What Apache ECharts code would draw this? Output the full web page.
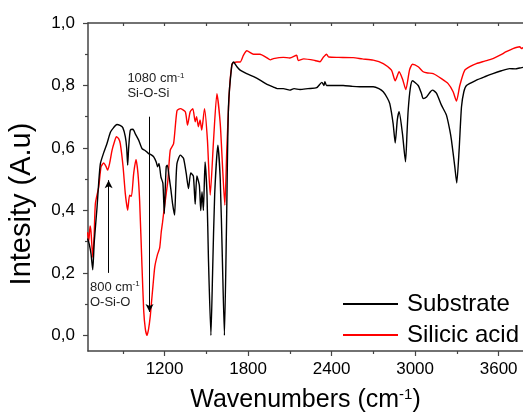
<!DOCTYPE html>
<html>
<head>
<meta charset="utf-8">
<script src="https://cdn.jsdelivr.net/npm/echarts@6/dist/echarts.min.js"></script>
<style>
html,body{margin:0;padding:0;background:#fff;}
#chart{width:523px;height:412px;}
</style>
</head>
<body>
<div id="chart"></div>
<script>
// ---- data ----
const seriesNames = ['Substrate', 'Silicic acid'];

const subWave = [647,660,672,684,695,715,727,739,763,787,811,834,858,880,900,918,928,935,942,954,973,990,1014,1038,1060,1085,1105,1121,1140,1150,1160,1174,1188,1198,1205,1212,1220,1235,1246,1258,1272,1280,1289,1313,1336,1355,1372,1388,1407,1420,1432,1450,1460,1469,1479,1491,1505,1515,1533,1545,1560,1583,1600,1615,1630,1645,1659,1683,1695,1720,1743,1790,1840,1886,1930,1982,2010,2053,2100,2130,2173,2230,2293,2330,2345,2352,2364,2420,2484,2550,2603,2699,2740,2771,2800,2818,2842,2857,2872,2885,2909,2931,2942,2950,2965,2981,3022,3045,3058,3082,3110,3125,3154,3189,3225,3250,3261,3285,3299,3316,3333,3350,3369,3440,3500,3559,3620,3679,3720,3751,3775];
const subVal = [0.31,0.29,0.26,0.21,0.30,0.41,0.49,0.55,0.585,0.615,0.65,0.665,0.675,0.672,0.665,0.636,0.60,0.545,0.60,0.657,0.66,0.645,0.625,0.598,0.592,0.582,0.578,0.572,0.555,0.54,0.55,0.507,0.487,0.39,0.47,0.54,0.545,0.50,0.465,0.42,0.385,0.47,0.55,0.577,0.567,0.52,0.47,0.52,0.51,0.42,0.51,0.48,0.40,0.46,0.40,0.555,0.45,0.25,0.0,0.2,0.45,0.609,0.50,0.25,0.0,0.35,0.73,0.865,0.875,0.86,0.849,0.838,0.828,0.817,0.805,0.795,0.79,0.79,0.785,0.79,0.787,0.79,0.793,0.81,0.80,0.812,0.80,0.80,0.80,0.797,0.796,0.796,0.79,0.78,0.76,0.742,0.678,0.616,0.69,0.716,0.646,0.556,0.65,0.72,0.79,0.815,0.80,0.775,0.758,0.763,0.78,0.785,0.775,0.737,0.705,0.655,0.625,0.54,0.488,0.593,0.731,0.78,0.80,0.817,0.828,0.838,0.847,0.854,0.853,0.856,0.858];

const acidWave = [647,655,665,672,684,694,703,727,744,763,780,791,805,823,840,854,870,882,902,918,935,949,962,978,995,1009,1021,1038,1050,1062,1074,1085,1097,1105,1117,1130,1150,1165,1176,1185,1193,1212,1224,1241,1265,1289,1313,1349,1365,1384,1403,1420,1430,1443,1455,1467,1487,1508,1528,1552,1576,1600,1619,1633,1647,1666,1686,1719,1743,1767,1791,1839,1886,1930,1960,1982,2053,2100,2149,2160,2200,2280,2317,2340,2364,2380,2450,2555,2620,2699,2771,2830,2857,2885,2910,2933,2960,2981,3022,3058,3090,3130,3189,3237,3273,3297,3321,3357,3400,3440,3500,3559,3610,3655,3703,3751,3765,3775];
const acidVal = [0.33,0.30,0.35,0.33,0.25,0.32,0.422,0.475,0.54,0.552,0.54,0.529,0.55,0.593,0.62,0.636,0.63,0.614,0.54,0.454,0.401,0.449,0.445,0.518,0.563,0.518,0.43,0.22,0.08,0.02,0.0,0.02,0.06,0.10,0.16,0.22,0.26,0.28,0.33,0.36,0.39,0.454,0.497,0.593,0.614,0.719,0.726,0.716,0.673,0.716,0.726,0.684,0.70,0.668,0.69,0.657,0.726,0.625,0.449,0.625,0.774,0.678,0.518,0.417,0.593,0.785,0.87,0.875,0.875,0.897,0.911,0.90,0.90,0.89,0.882,0.886,0.89,0.888,0.897,0.88,0.885,0.88,0.876,0.89,0.90,0.891,0.89,0.889,0.885,0.881,0.87,0.849,0.815,0.844,0.82,0.787,0.85,0.868,0.86,0.844,0.84,0.838,0.822,0.806,0.78,0.75,0.80,0.849,0.862,0.87,0.878,0.886,0.897,0.908,0.918,0.924,0.918,0.922];

const xMajorTicks = [1200, 1800, 2400, 3000, 3600];
const xMinorTicks = [900, 1500, 2100, 2700, 3300];
const xTopTicks = [900, 1200, 1500, 1800, 2100, 2400, 2700, 3000, 3300, 3600];
const yMajorTicks = [0, 0.2, 0.4, 0.6, 0.8, 1.0];
const yMinorTicks = [0.1, 0.3, 0.5, 0.7, 0.9];
const xRange = [650, 3775];
const yRange = [-0.05, 1.0];

// annotations: [wavenumber, from value, to value]
const annot1080 = {wave: 1092, from: 0.70, to: 0.075, labelWave: 933, labelVal: 0.845};
const annot800 = {wave: 798, from: 0.20, to: 0.497, labelWave: 664, labelVal: 0.178};

// ---- chart ----
const toPairs = (xs, ys) => xs.map((x, i) => [x, ys[i]]);
const FONT = 'Liberation Sans, Arial, sans-serif';
const AXIS_COLOR = '#444';
const fmt = v => v.toFixed(1).replace('.', ',');

const chart = echarts.init(document.getElementById('chart'), null, {renderer: 'canvas'});

const richSup = {
  t: {fontSize: 13, fontFamily: FONT, color: '#222', lineHeight: 15},
  s: {fontSize: 8, fontFamily: FONT, color: '#222', lineHeight: 15, verticalAlign: 'top', padding: [0, 0, 6, 0]}
};

const option = {
  animation: false,
  backgroundColor: '#fff',
  textStyle: {fontFamily: FONT},
  grid: {left: 88, right: 0, top: 23, bottom: 61, containLabel: false, outerBoundsMode: 'none'},
  legend: {
    data: seriesNames,
    orient: 'vertical',
    left: 338,
    top: 287,
    icon: 'rect',
    itemWidth: 55,
    itemHeight: 2,
    itemGap: 7,
    textStyle: {fontSize: 24, color: '#000', fontFamily: FONT, padding: [0, 0, 0, 4]},
    selectedMode: false
  },
  xAxis: [
    {
      type: 'value', position: 'bottom', min: xRange[0], max: xRange[1],
      name: 'Wavenumbers (cm{sup|-1})',
      nameLocation: 'middle', nameGap: 36,
      nameTextStyle: {fontSize: 25, color: '#000', fontFamily: FONT,
        rich: {sup: {fontSize: 15, color: '#000', fontFamily: FONT, verticalAlign: 'top', padding: [0, 0, 12, 0]}}},
      axisLine: {show: true, onZero: false, lineStyle: {color: AXIS_COLOR, width: 1.5}},
      axisTick: {show: true, inside: false, length: 5, customValues: xMajorTicks, lineStyle: {color: AXIS_COLOR, width: 1.2}},
      axisLabel: {show: true, customValues: xMajorTicks, fontSize: 17, color: '#000', margin: 10, fontFamily: FONT, formatter: v => String(v)},
      splitLine: {show: false}
    },
    {
      type: 'value', position: 'bottom', min: xRange[0], max: xRange[1],
      axisLine: {show: false, onZero: false},
      axisTick: {show: true, inside: false, length: 3, customValues: xMinorTicks, lineStyle: {color: AXIS_COLOR, width: 1.2}},
      axisLabel: {show: false},
      splitLine: {show: false}
    },
    {
      type: 'value', position: 'top', min: xRange[0], max: xRange[1],
      axisLine: {show: true, onZero: false, lineStyle: {color: AXIS_COLOR, width: 1.5}},
      axisTick: {show: true, inside: true, length: 3, customValues: xTopTicks, lineStyle: {color: AXIS_COLOR, width: 1.2}},
      axisLabel: {show: false},
      splitLine: {show: false}
    }
  ],
  yAxis: [
    {
      type: 'value', position: 'left', min: yRange[0], max: yRange[1],
      name: 'Intesity (A.u)',
      nameLocation: 'middle', nameGap: 52,
      nameTextStyle: {fontSize: 29, color: '#000', fontFamily: FONT, padding: [0, 34, 0, 0]},
      axisLine: {show: true, onZero: false, lineStyle: {color: AXIS_COLOR, width: 1.5}},
      axisTick: {show: true, inside: false, length: 5, customValues: yMajorTicks, lineStyle: {color: AXIS_COLOR, width: 1.2}},
      axisLabel: {show: true, customValues: yMajorTicks, fontSize: 17, color: '#000', margin: 13, fontFamily: FONT, formatter: fmt},
      splitLine: {show: false}
    },
    {
      type: 'value', position: 'left', min: yRange[0], max: yRange[1],
      axisLine: {show: false, onZero: false},
      axisTick: {show: true, inside: false, length: 3, customValues: yMinorTicks, lineStyle: {color: AXIS_COLOR, width: 1.2}},
      axisLabel: {show: false},
      splitLine: {show: false}
    }
  ],
  series: [
    {
      name: seriesNames[0], type: 'line', xAxisIndex: 0, yAxisIndex: 0,
      data: toPairs(subWave, subVal),
      symbol: 'none', smooth: 0.2, z: 3,
      lineStyle: {color: '#000', width: 1.4},
      itemStyle: {color: '#000'},
      markLine: {
        silent: true, animation: false,
        symbol: ['none', 'arrow'], symbolSize: [6, 8],
        label: {show: false},
        lineStyle: {color: '#000', width: 1, type: 'solid'},
        data: [
          [{coord: [annot1080.wave, annot1080.from]}, {coord: [annot1080.wave, annot1080.to]}],
          [{coord: [annot800.wave, annot800.from]}, {coord: [annot800.wave, annot800.to]}]
        ]
      },
      markPoint: {
        silent: true, animation: false,
        symbol: 'rect', symbolSize: 0,
        data: [
          {coord: [annot1080.labelWave, annot1080.labelVal],
           label: {show: true, position: [0, 0], align: 'left', verticalAlign: 'top',
             formatter: '{t|1080 cm}{s|-1}\n{t|Si-O-Si}', rich: richSup}},
          {coord: [annot800.labelWave, annot800.labelVal],
           label: {show: true, position: [0, 0], align: 'left', verticalAlign: 'top',
             formatter: '{t|800 cm}{s|-1}\n{t|O-Si-O}', rich: richSup}}
        ]
      }
    },
    {
      name: seriesNames[1], type: 'line', xAxisIndex: 0, yAxisIndex: 0,
      data: toPairs(acidWave, acidVal),
      symbol: 'none', smooth: 0.2, z: 2,
      lineStyle: {color: '#ff0000', width: 1.4},
      itemStyle: {color: '#ff0000'}
    }
  ]
};
chart.setOption(option);
</script>
</body>
</html>
